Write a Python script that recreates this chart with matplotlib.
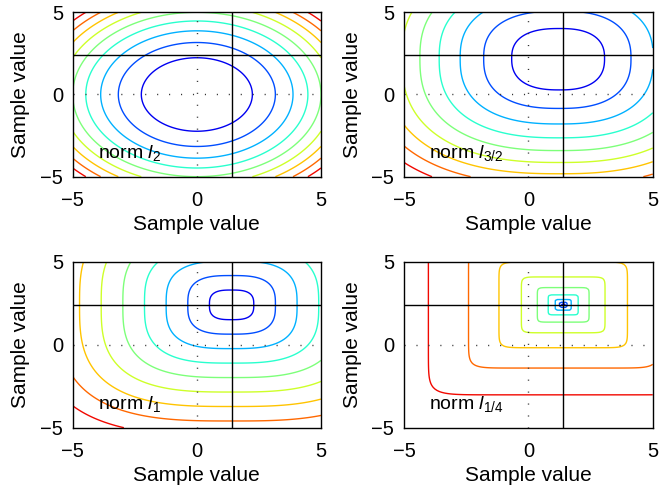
import numpy as np
import matplotlib

matplotlib.use("Agg")
import matplotlib.pyplot as plt

plt.rcParams["font.family"] = ["Liberation Sans", "DejaVu Sans"]
plt.rcParams["mathtext.fontset"] = "custom"
plt.rcParams["mathtext.rm"] = "Liberation Sans"
plt.rcParams["mathtext.it"] = "Liberation Sans:italic"
plt.rcParams["lines.scale_dashes"] = False

# one panel per norm order, filled row by row
NORM_ORDERS = [2.0, 1.5, 1.0, 0.25]
NORM_NAMES = ["2", "3/2", "1", "1/4"]
# minimiser of each cost surface
CENTER_X = [0.0, 1.25, 1.4, 1.4]
CENTER_Y = [0.0, 2.2, 2.4, 2.4]
# squareness of the level curves, and how far they reach toward the lower left
SHAPE_EXP = [2.0, 2.5, 3.0, 12.0]
STRETCH_LL = [1.0, 1.06, 1.0, 1.0]
# reference sample marked by the crosshair
REF_X = 1.4
REF_Y = 2.4
TICKS = [-5, 0, 5]
N_LEVELS = 9

grid = np.linspace(-5, 5, 121)
X, Y = np.meshgrid(grid, grid)


def cost_surface(p, cx, cy, q, stretch):
    dx = X - cx
    dy = Y - cy
    dx = np.where(dx < 0, dx / stretch, dx)
    dy = np.where(dy < 0, dy / stretch, dy)
    dist = (np.abs(dx) ** q + np.abs(dy) ** q) ** (1.0 / q)
    return dist ** p


fig = plt.figure(figsize=(6.59, 4.92), dpi=100)
positions = [
    [0.1103, 0.6409, 0.3768, 0.3341],
    [0.6131, 0.6409, 0.3774, 0.3341],
    [0.1103, 0.1307, 0.3768, 0.3374],
    [0.6131, 0.1307, 0.3774, 0.3374],
]

for i, pos in enumerate(positions):
    ax = fig.add_axes(pos)
    Z = cost_surface(NORM_ORDERS[i], CENTER_X[i], CENTER_Y[i], SHAPE_EXP[i], STRETCH_LL[i])
    zmin, zmax = Z.min(), Z.max()
    # evenly spaced levels between min and max, like an automatic contour call
    levels = zmin + (zmax - zmin) * np.arange(1, N_LEVELS + 1) / (N_LEVELS + 1)
    ax.contour(X, Y, Z, levels=levels, cmap="jet", vmin=zmin, vmax=zmax, linewidths=1.0)

    ax.axhline(0, color="0.2", linewidth=1.0, linestyle=(0, (0.8, 7.8)))
    ax.axvline(0, color="0.2", linewidth=1.0, linestyle=(0, (0.8, 7.8)))
    ax.axhline(REF_Y, color="black", linewidth=1.0)
    ax.axvline(REF_X, color="black", linewidth=1.0)

    ax.set_xlim(-5, 5)
    ax.set_ylim(-5, 5)
    ax.set_xticks(TICKS)
    ax.set_yticks(TICKS)
    ax.set_xticklabels(["\u22125", "0", "5"])
    ax.set_yticklabels(["\u22125", "0", "5"])
    ax.tick_params(length=0, labelsize=14.5, pad=7)
    ax.tick_params(axis="x", pad=10)
    for spine in ax.spines.values():
        spine.set_linewidth(1.0)

    ax.set_xlabel("Sample value", fontsize=15, labelpad=4)
    ax.set_ylabel("Sample value", fontsize=15, labelpad=7)
    ax.text(-4, -3.88, r"norm $\mathit{l}_{\mathit{" + NORM_NAMES[i] + "}}$",
            fontsize=14, va="baseline")

fig.savefig("out.png", dpi=100)
